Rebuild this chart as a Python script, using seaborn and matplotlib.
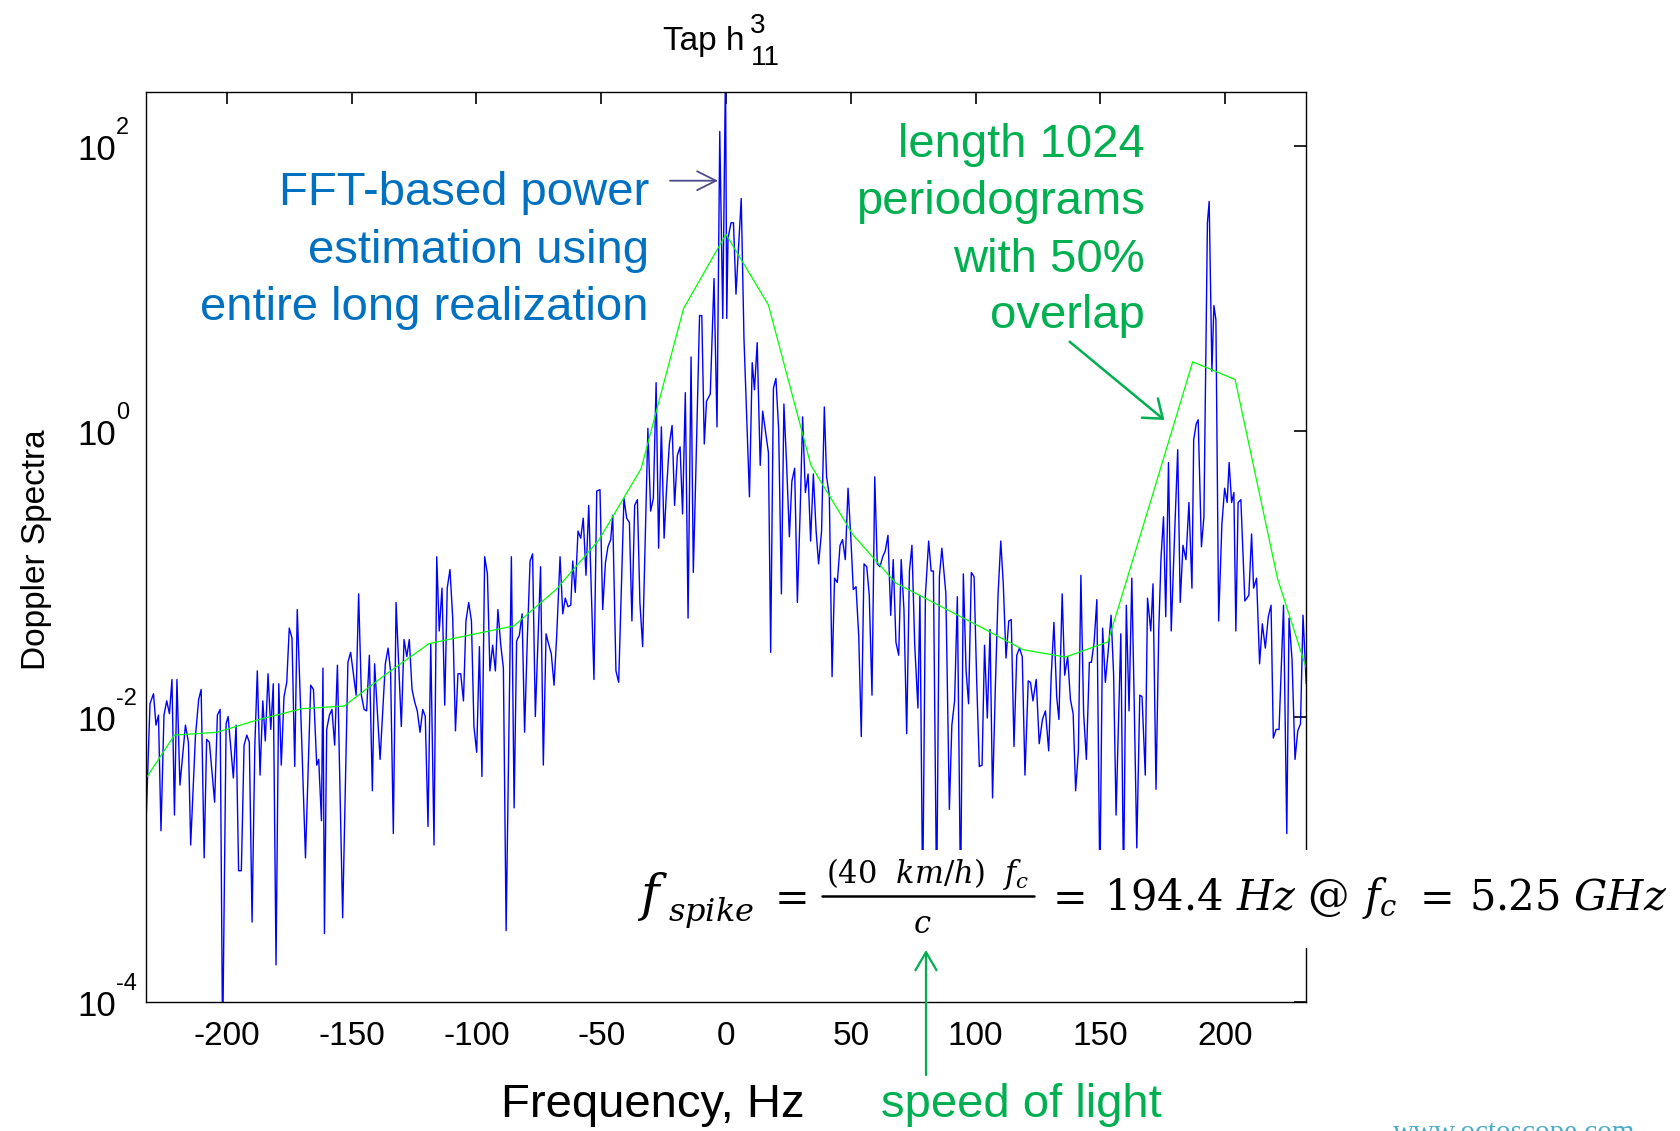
import numpy as np
import matplotlib
matplotlib.use("Agg")
import matplotlib.pyplot as plt
import seaborn as sns
from matplotlib.patches import Rectangle
from matplotlib.lines import Line2D
from matplotlib.ticker import NullLocator
from matplotlib.transforms import blended_transform_factory, offset_copy

# ---------------- data ----------------
BLUE_FREQ_HZ = [
    -232.9, -230.8, -229.4, -228.4, -227.4, -226.4, -225.2, -224.1, -223.0, -222.0,
    -221.0, -220.0, -218.8, -216.6, -215.4, -214.5, -212.6, -211.3, -210.3, -209.1,
    -208.1, -207.0, -204.9, -203.8, -202.7, -201.7, -200.3, -199.5, -197.4, -196.3,
    -195.3, -194.2, -193.1, -192.0, -191.0, -189.9, -188.8, -187.8, -186.7, -185.6,
    -184.6, -183.5, -182.4, -181.4, -180.3, -179.2, -178.2, -177.1, -176.0, -175.0,
    -173.9, -172.8, -171.8, -170.1, -168.5, -166.4, -165.3, -164.0, -163.2, -162.1,
    -161.5, -160.9, -160.0, -158.9, -157.9, -156.8, -155.7, -153.6, -151.5, -150.4,
    -149.3, -148.2, -147.2, -146.1, -145.0, -144.0, -142.9, -141.7, -140.8, -138.6,
    -136.5, -135.4, -134.4, -133.3, -132.2, -130.1, -129.0, -127.9, -126.9, -125.8,
    -124.7, -123.7, -122.6, -121.5, -120.5, -119.4, -118.3, -117.0, -115.9, -114.9,
    -113.8, -112.7, -111.7, -110.6, -109.5, -108.4, -107.4, -106.3, -105.2, -104.2,
    -103.1, -102.0, -101.0, -99.9, -98.8, -97.8, -96.7, -95.6, -94.6, -93.5,
    -92.4, -91.4, -90.3, -89.2, -88.1, -86.0, -84.9, -83.9, -82.8, -81.7,
    -80.7, -79.6, -78.5, -77.5, -76.4, -74.3, -73.2, -72.1, -71.1, -70.0,
    -68.9, -67.8, -66.5, -65.4, -64.4, -63.3, -62.2, -61.4, -60.4, -59.3,
    -58.2, -57.2, -56.1, -55.0, -52.9, -51.8, -50.5, -49.4, -48.3, -47.3,
    -46.2, -45.4, -44.1, -43.0, -40.9, -39.8, -38.7, -37.7, -36.6, -35.5,
    -34.5, -33.4, -31.3, -30.2, -29.1, -28.0, -27.0, -25.9, -24.8, -23.8,
    -22.7, -21.6, -20.6, -19.5, -18.4, -17.4, -16.3, -15.2, -14.0, -13.1,
    -12.2, -10.6, -9.7, -8.7, -7.8, -6.3, -4.8, -3.6, -2.5, -1.3,
    -0.2, 0.3, 0.8, 2.0, 3.0, 4.0, 6.1, 7.2, 9.4, 10.5,
    11.4, 12.5, 13.7, 14.7, 15.8, 17.0, 17.9, 19.0, 20.0, 21.1,
    22.2, 23.2, 24.3, 25.4, 26.4, 27.5, 28.6, 29.7, 30.7, 31.8,
    32.9, 33.9, 35.0, 36.1, 37.1, 38.3, 39.4, 40.3, 41.4, 42.5,
    43.5, 44.6, 45.7, 46.7, 47.8, 48.9, 50.0, 51.0, 52.1, 53.2,
    54.2, 55.3, 56.4, 57.4, 58.5, 59.6, 60.6, 61.7, 62.8, 63.8,
    64.9, 66.0, 67.0, 68.1, 69.2, 70.2, 71.3, 72.4, 73.5, 74.5,
    75.6, 76.9, 77.7, 78.8, 79.9, 81.2, 82.2, 83.1, 84.4, 85.5,
    86.5, 88.1, 89.5, 90.5, 91.6, 92.7, 94.0, 95.1, 96.2, 97.2,
    98.3, 99.4, 100.4, 101.5, 102.6, 103.6, 104.7, 105.8, 106.8, 107.9,
    109.0, 110.1, 111.1, 112.2, 113.3, 114.3, 115.4, 116.5, 117.6, 118.7,
    119.8, 121.1, 122.0, 123.0, 124.3, 125.5, 126.8, 128.0, 129.3, 130.3,
    131.4, 132.5, 133.4, 134.7, 135.7, 136.9, 138.0, 139.1, 140.1, 141.2,
    142.2, 143.3, 144.4, 145.6, 146.4, 147.5, 148.6, 149.8, 150.9, 152.0,
    153.1, 154.3, 155.3, 156.3, 158.2, 159.3, 160.4, 161.5, 162.6, 163.5,
    164.6, 165.8, 166.7, 168.0, 168.9, 170.2, 171.1, 172.3, 173.4, 174.3,
    175.3, 176.2, 177.3, 178.4, 179.8, 181.0, 182.0, 183.1, 184.3, 185.5,
    186.7, 187.4, 188.4, 189.2, 190.5, 191.5, 192.9, 193.6, 194.7, 195.5,
    196.3, 197.4, 198.7, 199.8, 200.8, 201.6, 202.6, 203.5, 204.3, 205.2,
    206.3, 207.9, 209.5, 210.6, 211.4, 212.6, 213.8, 214.9, 216.1, 217.3,
    218.4, 219.3, 220.4, 221.6, 223.4, 224.7, 225.6, 226.8, 228.0, 229.1,
    230.2, 231.2, 232.5,
]
BLUE_LOG10 = [
    -3.02, -1.91, -1.84, -2.06, -1.99, -2.80, -1.99, -1.89, -1.98, -1.74,
    -2.69, -1.74, -2.48, -2.06, -2.18, -2.90, -2.14, -1.88, -1.81, -2.99,
    -2.16, -2.18, -2.60, -1.99, -1.95, -4.30, -2.05, -2.00, -2.43, -2.06,
    -3.08, -3.08, -2.20, -2.13, -2.18, -3.44, -2.21, -1.68, -2.41, -1.89,
    -2.17, -1.70, -2.09, -1.77, -3.74, -1.77, -2.34, -1.86, -1.76, -1.38,
    -1.45, -2.35, -1.25, -2.12, -2.99, -1.78, -1.81, -2.34, -2.30, -2.73,
    -1.66, -3.52, -2.09, -1.99, -1.95, -2.20, -1.64, -3.41, -1.62, -1.55,
    -1.70, -1.85, -1.14, -1.85, -1.95, -1.96, -1.57, -2.52, -1.63, -2.30,
    -1.63, -1.52, -1.68, -2.82, -1.20, -2.07, -1.46, -1.58, -1.46, -1.81,
    -1.90, -1.96, -2.11, -1.95, -2.00, -2.77, -1.49, -2.90, -0.88, -1.40,
    -1.10, -1.92, -1.10, -0.97, -1.31, -2.10, -1.70, -1.70, -1.89, -1.33,
    -1.20, -1.33, -2.07, -2.25, -1.51, -2.42, -0.88, -1.00, -1.68, -1.50,
    -1.68, -1.25, -1.49, -1.66, -3.50, -0.88, -2.64, -1.47, -1.43, -1.28,
    -2.11, -1.45, -0.91, -0.86, -2.00, -0.95, -2.34, -1.42, -1.49, -1.56,
    -1.78, -1.42, -0.88, -1.28, -1.17, -1.23, -1.22, -0.91, -1.13, -0.70,
    -0.75, -0.61, -1.01, -0.52, -1.74, -0.42, -0.41, -1.25, -0.92, -0.81,
    -0.76, -0.59, -1.68, -1.76, -0.47, -0.61, -0.64, -1.33, -0.52, -0.48,
    -1.20, -1.51, 0.02, -0.56, -0.47, 0.34, -0.82, 0.03, -0.75, -0.40,
    -0.09, 0.04, -0.52, -0.17, -0.11, -0.58, 0.27, -1.31, 0.52, -0.99,
    -0.37, 0.81, 0.81, -0.09, 0.21, 0.26, 1.07, 0.03, 2.10, 0.79,
    2.55, 0.79, 1.35, 1.46, 1.46, 0.96, 1.63, 0.65, -0.46, 0.48,
    0.29, 0.62, -0.24, 0.14, 0.00, -0.15, -1.55, 0.30, 0.37, 0.01,
    -1.14, 0.19, -0.24, -0.74, -0.35, -0.26, -1.20, -0.57, 0.10, -0.43,
    -0.30, -0.77, -0.30, -0.70, -0.93, -0.70, 0.17, -0.32, -0.45, -1.72,
    -1.03, -1.06, -0.80, -0.76, -0.90, -0.40, -0.74, -1.11, -1.09, -1.44,
    -2.14, -0.93, -0.95, -1.15, -1.85, -0.32, -0.93, -0.95, -0.88, -0.84,
    -0.73, -1.29, -0.90, -1.48, -1.57, -0.90, -1.25, -2.12, -0.98, -0.80,
    -1.49, -1.94, -1.15, -3.30, -1.15, -0.77, -0.98, -0.98, -3.30, -1.02,
    -0.82, -1.14, -2.65, -2.06, -1.89, -1.16, -3.30, -1.00, -1.68, -1.91,
    -0.99, -1.02, -1.72, -2.35, -2.34, -1.50, -2.01, -1.39, -2.57, -1.81,
    -1.15, -0.77, -1.07, -1.59, -1.33, -1.32, -2.21, -1.57, -1.52, -1.58,
    -2.41, -1.75, -1.76, -1.89, -1.74, -2.19, -2.02, -1.96, -2.24, -1.72,
    -1.34, -1.86, -2.02, -1.14, -1.71, -1.58, -1.88, -1.98, -2.52, -2.24,
    -1.01, -1.98, -2.30, -1.62, -1.62, -1.48, -1.18, -3.20, -1.38, -1.76,
    -1.55, -1.29, -1.70, -2.69, -1.42, -3.20, -1.22, -1.96, -1.03, -1.84,
    -2.92, -1.85, -1.86, -2.41, -1.17, -1.40, -1.07, -2.51, -1.40, -0.89,
    -0.60, -1.30, -0.22, -1.40, -0.70, -0.13, -1.20, -0.80, -0.90, -0.50,
    -1.10, -0.06, 0.05, 0.08, -0.81, -0.60, 1.46, 1.61, 0.42, 0.88,
    0.78, -1.33, -0.65, -0.40, -0.50, -0.22, -0.50, -0.43, -1.40, -0.50,
    -0.48, -1.19, -1.15, -0.72, -1.10, -1.03, -1.63, -1.35, -1.52, -1.30,
    -1.22, -2.15, -2.09, -2.09, -1.22, -2.82, -1.31, -1.60, -2.30, -2.10,
    -2.05, -1.29, -1.77,
]
GREEN_FREQ_HZ = [-238, -221, -204, -187, -170, -153, -136, -119, -102, -85,
                 -68, -51, -34, -17, 0, 17, 34, 51, 68, 85,
                 102, 119, 136, 153, 170, 187, 204, 221, 238]
GREEN_LOG10 = [-2.58, -2.13, -2.11, -2.02, -1.945, -1.926, -1.70, -1.489, -1.426, -1.365,
               -1.108, -0.764, -0.262, 0.86, 1.38, 0.884, -0.238, -0.729, -1.064, -1.218,
               -1.372, -1.531, -1.583, -1.477, -0.50, 0.486, 0.362, -1.033, -1.96]
X_TICKS = [-200, -150, -100, -50, 0, 50, 100, 150, 200]
Y_TICK_EXPONENTS = [-4, -2, 0, 2]
X_LIMITS = (-232.4, 232.4)
Y_LIMITS = (1e-4, 238.0)

TITLE_MAIN, TITLE_SUP, TITLE_SUB = "Tap h", "3", "11"
X_LABEL = "Frequency, Hz"
Y_LABEL = "Doppler Spectra"
BLUE_NOTE = ["FFT-based power", "estimation using", "entire long realization"]
GREEN_NOTE = ["length 1024", "periodograms", "with 50%", "overlap"]
C_NOTE = "speed of light"
WATERMARK = "www.octoscope.com"

# ---------------- style ----------------
sns.set_theme(style="white")
plt.rcParams["font.family"] = ["Liberation Sans", "DejaVu Sans"]
plt.rcParams["axes.unicode_minus"] = False

W, H = 1681, 1131
fig = plt.figure(figsize=(W / 100, H / 100), dpi=100)
fig.patch.set_facecolor("white")


def fx(X):
    return X / W


def fy(Y):
    return 1 - Y / H


ax = fig.add_axes([fx(146), fy(1002), fx(1306) - fx(146), fy(92) - fy(1002)])
ax.set_facecolor("white")

blue_power = [10 ** v for v in BLUE_LOG10]
green_power = [10 ** v for v in GREEN_LOG10]

sns.lineplot(x=BLUE_FREQ_HZ, y=blue_power, ax=ax, color="#0000FF",
             linewidth=1.0, estimator=None, sort=False)
sns.lineplot(x=GREEN_FREQ_HZ, y=green_power, ax=ax, color="#00FF00",
             linewidth=0.9, estimator=None, sort=False)

ax.set_yscale("log")
ax.set_xlim(*X_LIMITS)
ax.set_ylim(*Y_LIMITS)
ax.set_xticks(X_TICKS)
ax.set_xticklabels([str(t) for t in X_TICKS])
y_ticks = [10.0 ** e for e in Y_TICK_EXPONENTS]
ax.set_yticks(y_ticks)
ax.set_yticklabels([])
ax.yaxis.set_minor_locator(NullLocator())
ax.xaxis.set_minor_locator(NullLocator())
ax.set_xlabel("")
ax.set_ylabel("")
for s in ax.spines.values():
    s.set_color("black")
    s.set_linewidth(1.0)
    s.set_visible(True)
ax.tick_params(axis="both", which="major", direction="in", length=8.5, width=1.2,
               color="black", top=True, right=True, labelsize=24, labelcolor="black")
ax.tick_params(axis="x", pad=14)
ax.grid(False)

# y tick labels drawn as "10" plus a raised exponent (with a plain hyphen)
ytrans = blended_transform_factory(fig.transFigure, ax.transData)
base_tr = offset_copy(ytrans, fig=fig, x=0, y=-14, units="dots")
sup_tr = offset_copy(ytrans, fig=fig, x=0, y=12, units="dots")
for e, t in zip(Y_TICK_EXPONENTS, y_ticks):
    fig.text(fx(116), t, "10", transform=base_tr, ha="right", va="baseline",
             fontsize=25, color="black")
    fig.text(fx(116), t, str(e), transform=sup_tr, ha="left", va="baseline",
             fontsize=17, color="black")

# title and axis labels
fig.text(fx(663), fy(50), TITLE_MAIN, ha="left", va="baseline", fontsize=24, color="black")
fig.text(fx(750), fy(33), TITLE_SUP, ha="left", va="baseline", fontsize=20, color="black")
fig.text(fx(751), fy(65), TITLE_SUB, ha="left", va="baseline", fontsize=20, color="black")
fig.text(fx(37), fy(550), Y_LABEL, rotation=90, ha="center", va="center",
         fontsize=24, color="black")
fig.text(fx(653), fy(1117), X_LABEL, ha="center", va="baseline", fontsize=34, color="black")

# annotations
for line, yb in zip(BLUE_NOTE, [205, 262.7, 320]):
    fig.text(fx(649), fy(yb), line, ha="right", va="baseline", fontsize=34, color="#0070C0")
for line, yb in zip(GREEN_NOTE, [156.7, 214, 271.7, 328]):
    fig.text(fx(1145), fy(yb), line, ha="right", va="baseline", fontsize=34, color="#00B050")
fig.text(fx(881), fy(1117), C_NOTE, ha="left", va="baseline", fontsize=34, color="#00B050")


def arrow(x1, y1, x2, y2, color, lw, hl, hw):
    ax.annotate("", xy=(x2, H - y2), xytext=(x1, H - y1),
                xycoords="figure pixels", textcoords="figure pixels",
                arrowprops=dict(arrowstyle=f"->,head_length={hl},head_width={hw}",
                                color=color, lw=lw, shrinkA=0, shrinkB=0,
                                mutation_scale=20),
                annotation_clip=False, zorder=20)


arrow(670, 180.7, 718, 180.7, "#4B4B8B", 1.3, 0.68, 0.34)
arrow(1069.6, 341.7, 1164.4, 420, "#00B050", 1.8, 0.6, 0.45)

# formula on a white panel
fig.add_artist(Rectangle((fx(620), fy(948)), fx(1681) - fx(620), fy(850) - fy(948),
                         transform=fig.transFigure, facecolor="white",
                         edgecolor="none", zorder=10))
MFS = 30
NFS = 22


def ftext(X, Y, s, ha, size):
    fig.text(fx(X), fy(Y), s, ha=ha, va="baseline", fontsize=size, color="black",
             math_fontfamily="dejavuserif", zorder=11)


ftext(637, 910, r"$f$", "left", 36)
ftext(668, 921, r"$spike$", "left", 23)
ftext(787, 910, r"$=$", "center", MFS)
ftext(928, 883, r"$(40\ \ km/h)\ \ f_c$", "center", NFS)
fig.add_artist(Line2D([fx(822), fx(1034)], [fy(896), fy(896)], transform=fig.transFigure,
                      color="black", linewidth=1.8, zorder=11))
ftext(922, 933, r"$c$", "center", NFS)
ftext(1065, 910, r"$=$", "center", MFS)
ftext(1104, 910, r"$194.4\ Hz$", "left", MFS)
ftext(1327, 910, r"$@$", "center", MFS)
ftext(1362, 910, r"$f_c$", "left", MFS)
ftext(1432, 910, r"$=$", "center", MFS)
ftext(1469, 910, r"$5.25\ GHz$", "left", MFS)

arrow(926, 1075, 926, 950, "#00B050", 1.6, 0.65, 0.38)

# watermark (cut at the bottom edge, as in the reference)
fig.text(fx(1393), fy(1140), WATERMARK, ha="left", va="baseline", fontsize=21,
         color="#4BACC6", family="Liberation Serif")

fig.savefig("out.png", dpi=100, facecolor="white")
